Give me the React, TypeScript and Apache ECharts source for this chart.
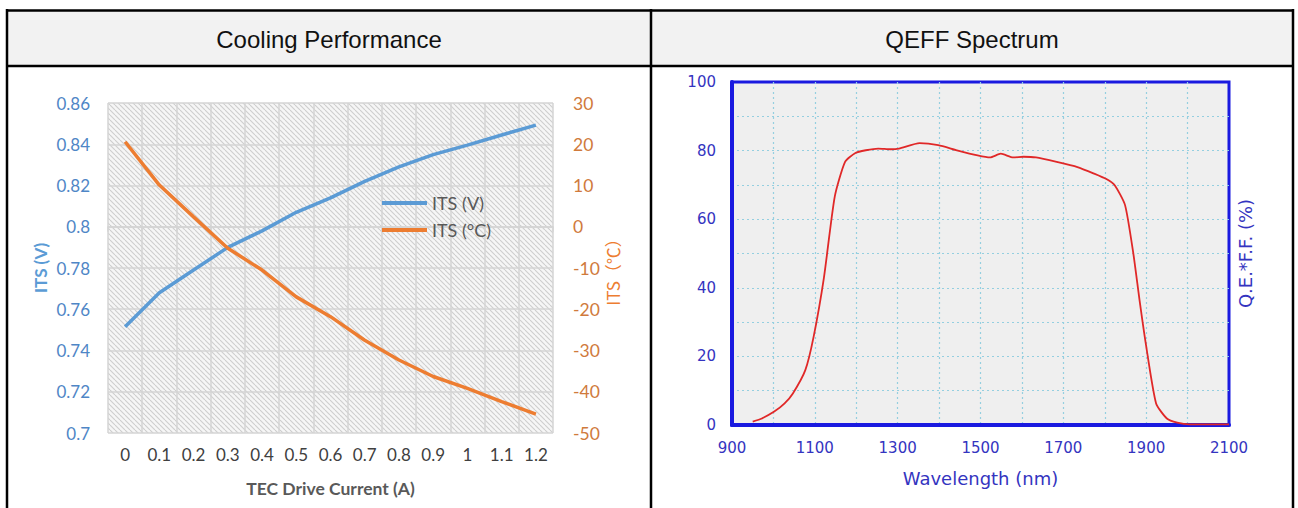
import React, { useEffect, useRef } from 'react';
import * as echarts from 'echarts';

// ---- Cooling performance data ----
const currents = ['0', '0.1', '0.2', '0.3', '0.4', '0.5', '0.6', '0.7', '0.8', '0.9', '1', '1.1', '1.2'];
const itsVolt = [0.7515, 0.768, 0.779, 0.790, 0.798, 0.807, 0.814, 0.822, 0.829, 0.835, 0.8396, 0.8445, 0.8493];
const itsTemp = [20.6, 10.1, 2.4, -5.2, -10.5, -17.0, -21.8, -27.5, -32.3, -36.3, -39.2, -42.4, -45.4];

// ---- QEFF spectrum data ----
const wavelengths = [950, 972, 1002, 1027, 1047, 1077, 1097, 1122, 1148, 1173, 1198, 1223, 1253, 1283, 1303, 1353, 1398, 1443, 1493, 1523, 1549, 1579, 1604, 1634, 1684, 1734, 1774, 1804, 1824, 1849, 1869, 1884, 1899, 1924, 1950, 1975, 2005, 2100];
const qeff = [1.0, 1.9, 3.9, 6.3, 9.2, 16, 25.7, 43, 66.5, 76.7, 79.3, 80.1, 80.6, 80.4, 80.6, 82.2, 81.6, 80.1, 78.6, 78.0, 79.1, 78.0, 78.2, 78.0, 76.7, 75.2, 73.3, 71.7, 69.9, 64.1, 50, 36.4, 23.8, 6.3, 1.9, 0.7, 0.2, 0.2];
const qeXLabels = [900, 1100, 1300, 1500, 1700, 1900, 2100];
const qeYLabels = [0, 20, 40, 60, 80, 100];

const headers = ['Cooling Performance', 'QEFF Spectrum'];
const legendNames = ['ITS (V)', 'ITS (°C)'];

const blue = '#5b9bd5';
const orange = '#ed7d31';
const calib = 'Lato, "Open Sans", sans-serif';
const verd = '"DejaVu Sans", Verdana, sans-serif';
const qeBlue = '#1a1ae0';
const qeText = '#3434c0';

function makeHatch() {
  const s = 5;
  const c = document.createElement('canvas');
  c.width = s;
  c.height = s;
  const ctx = c.getContext('2d');
  if (ctx) {
    ctx.fillStyle = '#f6f6f6';
    ctx.fillRect(0, 0, s, s);
    ctx.strokeStyle = '#cdcdcd';
    ctx.lineWidth = 1.1;
    for (const o of [-s, 0, s]) {
      ctx.beginPath();
      ctx.moveTo(o, 0);
      ctx.lineTo(o + s, s);
      ctx.stroke();
    }
  }
  return { image: c, repeat: 'repeat', imageWidth: s, imageHeight: s } as any;
}

export default function App() {
  const ref = useRef<HTMLDivElement>(null);
  useEffect(() => {
    if (!ref.current) return;
    const chart = echarts.init(ref.current, undefined, { renderer: 'svg' });
    const lineStyle = { stroke: '#000', lineWidth: 2.5 };
    const headFont = '24px "Liberation Sans", Arial, sans-serif';
    const qeSplit = { show: true, showMinLine: false, showMaxLine: false, lineStyle: { color: '#95cfe0', type: [2, 3], width: 1.2 } };
    const option: any = {
      animation: false,
      backgroundColor: '#fff',
      graphic: [
        { type: 'rect', z: -10, shape: { x: 7, y: 10, width: 1286, height: 56 }, style: { fill: '#f2f2f2' } },
        { type: 'line', shape: { x1: 6, y1: 10.5, x2: 1294, y2: 10.5 }, style: lineStyle },
        { type: 'line', shape: { x1: 6, y1: 66, x2: 1294, y2: 66 }, style: lineStyle },
        { type: 'line', shape: { x1: 7, y1: 9, x2: 7, y2: 510 }, style: lineStyle },
        { type: 'line', shape: { x1: 651, y1: 9, x2: 651, y2: 510 }, style: lineStyle },
        { type: 'line', shape: { x1: 1293, y1: 9, x2: 1293, y2: 510 }, style: lineStyle },
        {
          type: 'text', x: 329, y: 39,
          style: { text: headers[0], font: headFont, fill: '#111', align: 'center', verticalAlign: 'middle', textAlign: 'center', textVerticalAlign: 'middle' },
        },
        {
          type: 'text', x: 972, y: 39,
          style: { text: headers[1], font: headFont, fill: '#111', align: 'center', verticalAlign: 'middle', textAlign: 'center', textVerticalAlign: 'middle' },
        },
      ],
      legend: {
        data: legendNames,
        orient: 'vertical',
        left: 382,
        top: 194,
        padding: 0,
        icon: 'rect',
        itemWidth: 45,
        itemHeight: 4,
        itemGap: 9,
        textStyle: { color: '#595959', fontFamily: calib, fontSize: 18 },
      },
      grid: [
        { left: 108, top: 103, width: 445, height: 330, show: true, backgroundColor: makeHatch(), borderWidth: 0 },
        { left: 732, top: 82, width: 497, height: 343, show: true, backgroundColor: '#efefef', borderColor: qeBlue, borderWidth: 3 },
      ],
      xAxis: [
        {
          type: 'category', gridIndex: 0, data: currents, boundaryGap: true,
          axisLine: { lineStyle: { color: '#d4d4d4', width: 1.5 } },
          axisTick: { show: true, length: 5, lineStyle: { color: '#d4d4d4', width: 1.5 } },
          splitLine: { show: true, lineStyle: { color: '#d4d4d4', width: 1.5 } },
          axisLabel: { color: '#404040', fontFamily: calib, fontSize: 17, margin: 13 },
          name: 'TEC Drive Current (A)', nameLocation: 'middle', nameGap: 46,
          nameTextStyle: { color: '#595959', fontWeight: 'bold', fontFamily: calib, fontSize: 17.5 },
        },
        {
          type: 'value', gridIndex: 1, min: 900, max: 2100, interval: 100,
          axisLine: { show: true, lineStyle: { color: qeBlue, width: 4 } },
          axisTick: { show: false },
          splitLine: qeSplit,
          axisLabel: {
            color: qeText, fontFamily: verd, fontSize: 15, margin: 15,
            formatter: (v: number) => (qeXLabels.includes(v) ? String(v) : ''),
          },
          name: 'Wavelength (nm)', nameLocation: 'middle', nameGap: 44,
          nameTextStyle: { color: qeText, fontFamily: verd, fontSize: 18 },
        },
      ],
      yAxis: [
        {
          type: 'value', gridIndex: 0, min: 0.7, max: 0.86, interval: 0.02, position: 'left',
          axisLine: { show: false }, axisTick: { show: false },
          splitLine: { show: true, lineStyle: { color: '#d4d4d4', width: 1.5 } },
          axisLabel: { color: '#4f86c6', fontFamily: calib, fontSize: 17, margin: 18 },
          name: 'ITS (V)', nameLocation: 'middle', nameGap: 59, nameRotate: 90,
          nameTextStyle: { color: blue, fontWeight: 'bold', fontFamily: calib, fontSize: 17 },
        },
        {
          type: 'value', gridIndex: 0, min: -50, max: 30, interval: 10, position: 'right',
          axisLine: { show: false }, axisTick: { show: false }, splitLine: { show: false },
          axisLabel: { color: '#d07a3c', fontFamily: calib, fontSize: 17.5, margin: 20 },
          name: 'ITS（℃）', nameLocation: 'middle', nameGap: 51, nameRotate: 90,
          nameTextStyle: { color: orange, fontFamily: '"Noto Sans CJK SC", sans-serif', fontSize: 17 },
        },
        {
          type: 'value', gridIndex: 1, min: 0, max: 100, interval: 10, position: 'left',
          axisLine: { show: true, lineStyle: { color: qeBlue, width: 4 } },
          axisTick: { show: false },
          splitLine: qeSplit,
          axisLabel: {
            color: qeText, fontFamily: verd, fontSize: 15, margin: 16,
            formatter: (v: number) => (qeYLabels.includes(v) ? String(v) : ''),
          },
        },
        {
          type: 'value', gridIndex: 1, min: 0, max: 100, position: 'right',
          axisLine: { show: false }, axisTick: { show: false }, axisLabel: { show: false }, splitLine: { show: false },
          name: 'Q.E.*F.F. (%)', nameLocation: 'middle', nameGap: 7, nameRotate: 90,
          nameTextStyle: { color: qeText, fontFamily: verd, fontSize: 18 },
        },
      ],
      series: [
        {
          type: 'line', name: legendNames[0], xAxisIndex: 0, yAxisIndex: 0, data: itsVolt,
          symbol: 'none', lineStyle: { color: blue, width: 3.5 }, itemStyle: { color: blue },
        },
        {
          type: 'line', name: legendNames[1], xAxisIndex: 0, yAxisIndex: 1, data: itsTemp,
          symbol: 'none', lineStyle: { color: orange, width: 3.5 }, itemStyle: { color: orange },
        },
        {
          type: 'line', name: 'QEFF', xAxisIndex: 1, yAxisIndex: 2,
          data: wavelengths.map((w, i) => [w, qeff[i]]),
          symbol: 'none', smooth: 0.2, lineStyle: { color: '#e02828', width: 1.8 }, itemStyle: { color: '#e02828' },
        },
      ],
    };
    chart.setOption(option);
    return () => chart.dispose();
  }, []);
  return (
    <div
      ref={ref}
      style={{ position: 'fixed', left: 0, top: 0, width: 1298, height: 508, background: '#fff' }}
    />
  );
}
